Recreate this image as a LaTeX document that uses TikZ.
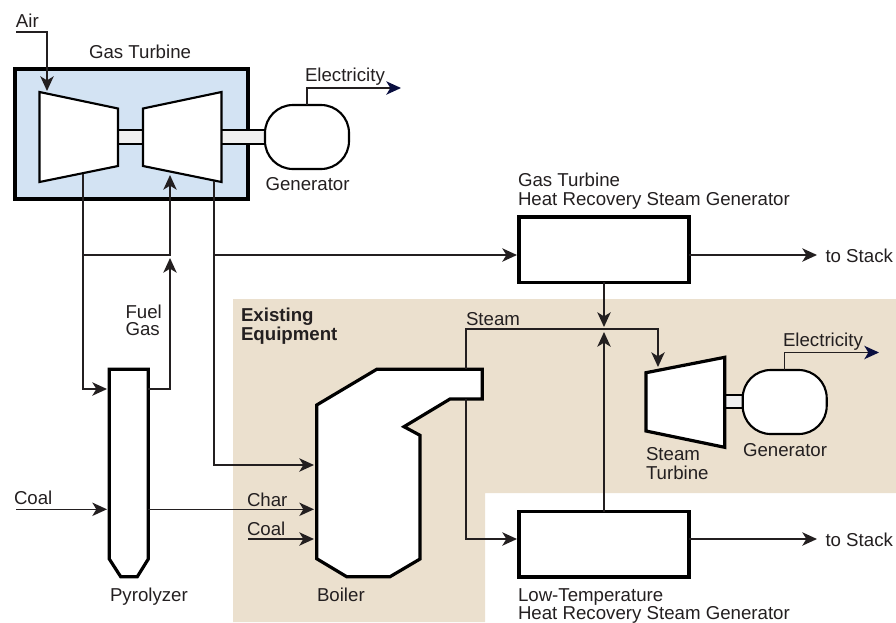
\documentclass[tikz,border=0pt]{standalone}
\usepackage{fontspec}
\setmainfont{Liberation Sans}
\usetikzlibrary{arrows.meta,calc}
\definecolor{ink}{HTML}{231F20}
\definecolor{tan}{HTML}{EBE0CE}
\definecolor{gtblue}{HTML}{D3E3F3}
\definecolor{shaftgrey}{HTML}{F0F0F0}
\definecolor{navy}{HTML}{0A0F40}
\tikzset{
  flow/.style={draw=ink,line width=1.15pt},
  arr/.style={flow,-{Stealth[length=11pt,width=10pt,inset=3pt]}},
  elec/.style={draw=ink,line width=1.15pt,-{Stealth[length=11pt,width=10pt,inset=3pt,color=navy]}},
  vessel/.style={draw=black,fill=white,line width=2.4pt,line join=miter},
  turbine/.style={draw=black,fill=white,line width=1.6pt,line join=miter},
  shaft/.style={draw=black,fill=shaftgrey,line width=1pt},
  boxnode/.style={draw=black,fill=white,line width=2.5pt,rectangle,inner sep=0pt,outer sep=0pt,minimum width=127.5pt,minimum height=49pt},
  gen/.style={draw=black,fill=white,line width=1.6pt,rectangle,rounded corners=21pt,inner sep=0pt,outer sep=0pt,minimum width=63pt,minimum height=48pt},
  lbl/.style={anchor=base west,inner sep=0pt,outer sep=0pt,text=ink,font=\fontsize{14}{15}\selectfont},
}
\begin{document}
\begin{tikzpicture}[x=0.75pt,y=-0.75pt]
\useasboundingbox (0,0) rectangle (896,622);
% background area
\fill[tan] (233,299) -- (896,299) -- (896,493) -- (485,493) -- (485,622) -- (233,622) -- cycle;
% gas turbine housing
\node[rectangle,draw=black,fill=gtblue,line width=2.5pt,inner sep=0pt,outer sep=0pt,minimum width=174.75pt,minimum height=97.5pt] (gt) at (131.5,134) {};
% shafts
\draw[shaft] (118,130) rectangle (143,144);
\draw[shaft] (221,130) rectangle (265,144);
\draw[shaft] (725,395) rectangle (743,408);
% compressor and turbines
\draw[turbine] (39.5,92) coordinate (compin) -- (118,108.5) -- (118,166) -- (39.5,182) -- cycle;
\draw[turbine] (143,108.5) -- (221.5,92) -- (221.5,182) -- (143,166) -- cycle;
\draw[vessel] (646,372.7) -- (724.7,357.3) -- (724.7,447.3) -- (646,431) -- cycle;
% generators
\node[gen] (gena) at (307,137) {};
\node[gen] (genb) at (784.7,402) {};
% heat recovery steam generators
\node[boxnode] (hrsga) at (604,249.5) {};
\node[boxnode] (hrsgb) at (604,544.2) {};
% pyrolyzer and boiler
\draw[vessel] (109.3,369.3) -- (148.3,369.3) -- (148.3,559) -- (137.3,576.7) -- (120.7,576.7) -- (109.3,559) -- cycle;
\draw[vessel] (316.7,405) -- (376.7,369.3) -- (482.3,369.3) -- (482.3,399) -- (450,399) -- (404,426.7) -- (420,435.3) -- (420,559) -- (390,576.7) -- (346.7,576.7) -- (316.7,558.7) -- cycle;
% named ends
\coordinate (airs) at (16,32);
\coordinate (airt) at (47,91);
\coordinate (compout) at (83,174);
\coordinate (pyin) at (107,389);
\coordinate (pyout) at (148.3,389);
\coordinate (fgtop) at (170,175);
\coordinate (fgsplit) at (83,255);
\coordinate (fgmid) at (170,255);
\coordinate (fgtip) at (170,258);
\coordinate (turbout) at (214,181);
\coordinate (exsplit) at (214,255);
\coordinate (hrsgain) at (517,255);
\coordinate (boilin) at (314,465);
\coordinate (stacka) at (817,255);
\coordinate (stackb) at (817,539);
\coordinate (coals) at (16,509.3);
\coordinate (coalt) at (107,509.3);
\coordinate (chars) at (148.3,509.3);
\coordinate (chart) at (314,509.3);
\coordinate (coalbs) at (248,539);
\coordinate (coalbt) at (314,539);
\coordinate (steamtop) at (466,369.3);
\coordinate (steamlow) at (466,399);
\coordinate (lowin) at (517,539);
\coordinate (junctop) at (604,327);
\coordinate (juncbot) at (604,332);
\coordinate (stin) at (658,367);
\coordinate (elecaend) at (401,88);
\coordinate (elecbend) at (879,352.5);
% connectors
\draw[arr] (airs) -| (airt);
\draw[flow] (compout) -- (fgsplit);
\draw[arr] (fgsplit) -- (fgsplit |- pyin) -- (pyin);
\draw[arr] (fgsplit) -- (fgmid) -- (fgtop);
\draw[arr] (pyout) -- (pyout -| fgtip) -- (fgtip);
\draw[flow] (turbout) -- (exsplit);
\draw[arr] (exsplit) -- (exsplit |- boilin) -- (boilin);
\draw[arr] (exsplit) -- (hrsgain);
\draw[arr] (hrsga.south) -- (junctop);
\draw[arr] (hrsgb.north) -- (juncbot);
\draw[arr] (hrsga.east |- stacka) -- (stacka);
\draw[arr] (hrsgb.east |- stackb) -- (stackb);
\draw[arr] (coals) -- (coalt);
\draw[arr] (chars) -- (chart);
\draw[arr] (coalbs) -- (coalbt);
\draw[arr] (steamtop) -- (466,329) -| (stin);
\draw[arr] (steamlow) |- (lowin);
\draw[elec] (gena.north) |- (elecaend);
\draw[elec] (genb.north) |- (elecbend);
% labels
\node[lbl] (tair) at (16,27) {Air};
\node[lbl] (tgt) at (89,58.7) {Gas Turbine};
\node[lbl] (telea) at (305,81) {Electricity};
\node[lbl] (tgena) at (265.5,190.7) {Generator};
\node[lbl] (tfuel) at (125.5,318) {Fuel};
\node[lbl] (tgas) at (125.5,335.7) {Gas};
\node[lbl,font=\fontsize{14}{15}\selectfont\bfseries] (tex) at (241,321.7) {Existing};
\node[lbl,font=\fontsize{14}{15}\selectfont\bfseries] (teq) at (241,340) {Equipment};
\node[lbl] (tsteam) at (466,325) {Steam};
\node[lbl] (teleb) at (783,346) {Electricity};
\node[lbl] (tst1) at (646,460) {Steam};
\node[lbl] (tst2) at (646,479) {Turbine};
\node[lbl] (tgenb) at (743,456) {Generator};
\node[lbl] (tstacka) at (825.5,262) {to Stack};
\node[lbl] (tstackb) at (825.5,546) {to Stack};
\node[lbl] (thra) at (518,186) {Gas Turbine};
\node[lbl] (thrb) at (518,205) {Heat Recovery Steam Generator};
\node[lbl] (tlt) at (518,601.7) {Low-Temperature};
\node[lbl] (thrc) at (518,619) {Heat Recovery Steam Generator};
\node[lbl] (tpy) at (110,601.7) {Pyrolyzer};
\node[lbl] (tbo) at (317,601.7) {Boiler};
\node[lbl] (tcoala) at (14,504) {Coal};
\node[lbl] (tchar) at (247,506) {Char};
\node[lbl] (tcoalb) at (247,535) {Coal};
\end{tikzpicture}
\end{document}
